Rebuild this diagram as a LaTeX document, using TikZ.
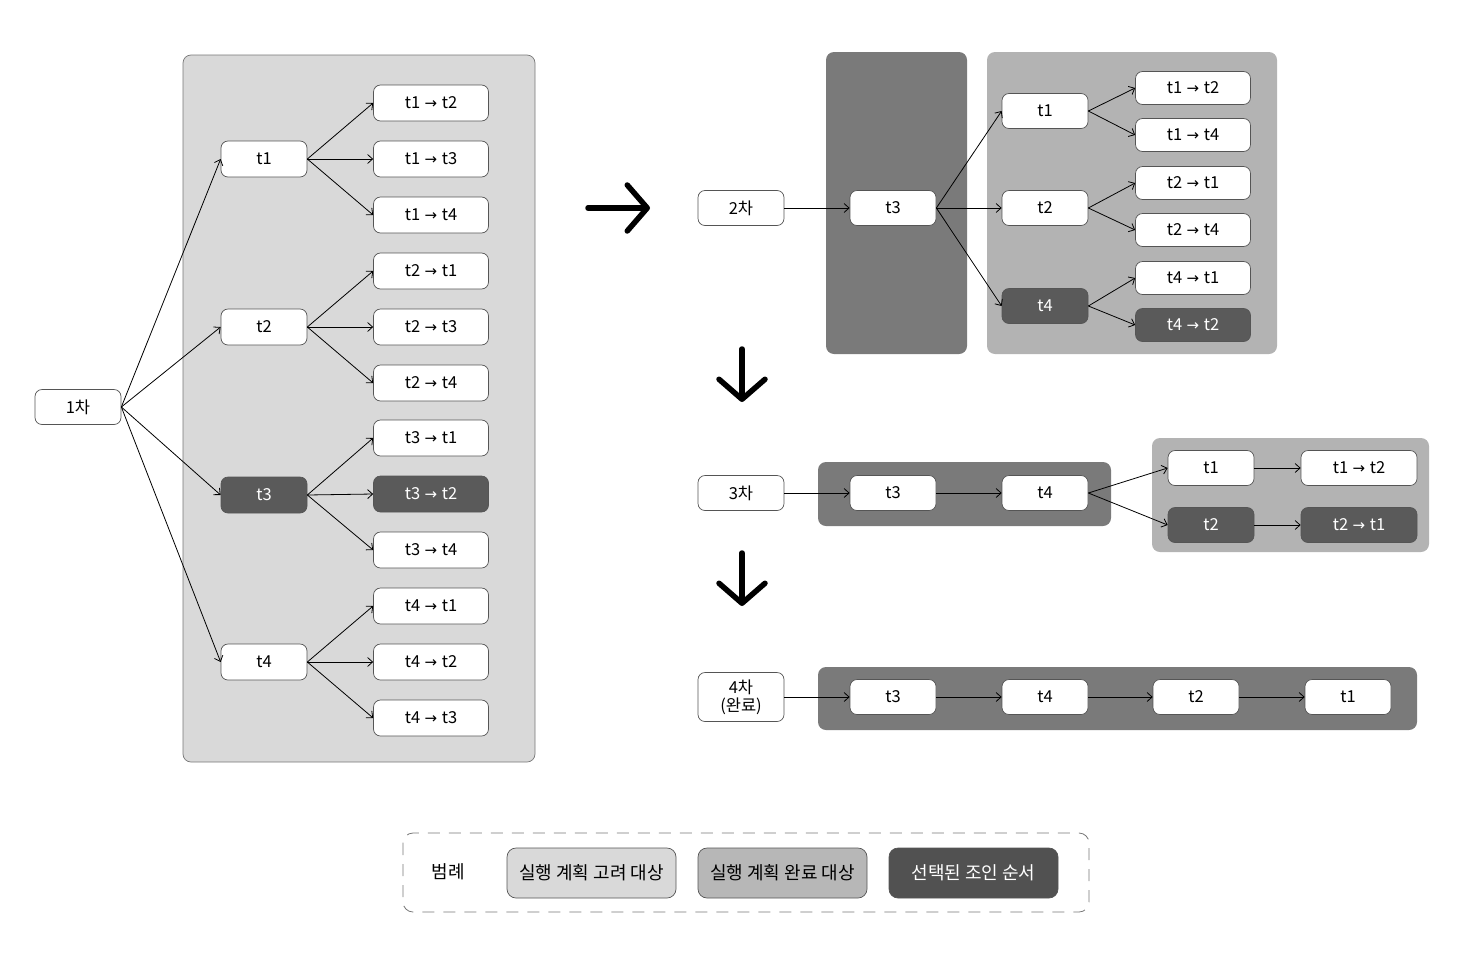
\documentclass[tikz,border=0pt]{standalone}
\usepackage{fontspec}
\setmainfont{Noto Sans CJK KR}
\newfontfamily\arrf{DejaVu Sans}
\usetikzlibrary{arrows.meta}
\definecolor{lightp}{HTML}{D9D9D9}
\definecolor{midp}{HTML}{B3B3B3}
\definecolor{darkp}{HTML}{7A7A7A}
\definecolor{selc}{HTML}{5A5A5A}
\definecolor{bord}{HTML}{555555}
\newcommand{\fs}{\fontsize{16.5}{19}\selectfont}
\newcommand{\fl}{\fontsize{18}{21}\selectfont}
\newcommand{\ra}{\hspace{4.5pt}{\arrf\fontsize{15}{15}\selectfont →}\hspace{4.5pt}}
\tikzset{
 nd/.style={draw=bord, line width=0.7pt, fill=white, rounded corners=7pt, minimum width=86pt, minimum height=35pt, inner sep=0pt, font=\fs, align=center},
 wd/.style={nd, minimum width=115pt},
 sel/.style={fill=selc, text=white},
 arr/.style={-{Straight Barb[length=5pt,width=9pt]}, line width=0.8pt},
 big/.style={line width=5.5pt, line cap=round, -{Straight Barb[length=20pt,width=46pt,line width=5.5pt, round]}},
 panel/.style={rounded corners=8pt},
 lgbox/.style={nd, font=\fl, minimum width=169pt, minimum height=50pt, rounded corners=9pt},
}
\begin{document}
\begin{tikzpicture}[x=1pt,y=-1pt]
\useasboundingbox (0,0) rectangle (1470,956);
% left panel
\draw[panel, fill=lightp, draw=bord!80, line width=0.7pt] (183,55) rectangle (535,762);
\node[nd] (r1) at (78,407) {1차};
\node[nd, minimum height=36pt] (a1) at (264,159) {t1};
\node[nd, minimum height=36pt] (a2) at (264,327) {t2};
\node[nd, minimum height=36pt, sel] (a3) at (264,495) {t3};
\node[nd, minimum height=36pt] (a4) at (264,662) {t4};
\node[wd, minimum height=36pt] (a12) at (431,103) {t1\ra t2};
\node[wd, minimum height=36pt] (a13) at (431,159) {t1\ra t3};
\node[wd, minimum height=36pt] (a14) at (431,215) {t1\ra t4};
\node[wd, minimum height=36pt] (a21) at (431,271) {t2\ra t1};
\node[wd, minimum height=36pt] (a23) at (431,327) {t2\ra t3};
\node[wd, minimum height=36pt] (a24) at (431,383) {t2\ra t4};
\node[wd, minimum height=36pt] (a31) at (431,438) {t3\ra t1};
\node[wd, minimum height=36pt, sel] (a32) at (431,494) {t3\ra t2};
\node[wd, minimum height=36pt] (a34) at (431,550) {t3\ra t4};
\node[wd, minimum height=36pt] (a41) at (431,606) {t4\ra t1};
\node[wd, minimum height=36pt] (a42) at (431,662) {t4\ra t2};
\node[wd, minimum height=36pt] (a43) at (431,718) {t4\ra t3};
\foreach \t in {a1,a2,a3,a4} \draw[arr] (r1.east) -- (\t.west);
\foreach \p/\c in {a1/a12,a1/a13,a1/a14,a2/a21,a2/a23,a2/a24,a3/a31,a3/a32,a3/a34,a4/a41,a4/a42,a4/a43}
  \draw[arr] (\p.east) -- (\c.west);
% big arrows
\coordinate (h1) at (588,208); \coordinate (h2) at (650,208);
\draw[big] (h1) -- (h2);
\coordinate (v1) at (742,349); \coordinate (v2) at (742,402);
\draw[big] (v1) -- (v2);
\coordinate (v3) at (742,553); \coordinate (v4) at (742,606);
\draw[big] (v3) -- (v4);
% 2nd
\fill[panel, darkp] (826,52) rectangle (967,354);
\fill[panel, midp] (987,52) rectangle (1277,354);
\node[nd] (r2) at (741,208) {2차};
\node[nd] (b3) at (893,208) {t3};
\node[nd] (b1) at (1045,111) {t1};
\node[nd] (b2) at (1045,208) {t2};
\node[nd, sel] (b4) at (1045,306) {t4};
\node[wd, minimum height=33pt] (b12) at (1193,88) {t1\ra t2};
\node[wd, minimum height=33pt] (b14) at (1193,135) {t1\ra t4};
\node[wd, minimum height=33pt] (b21) at (1193,183) {t2\ra t1};
\node[wd, minimum height=33pt] (b24) at (1193,230) {t2\ra t4};
\node[wd, minimum height=33pt] (b41) at (1193,278) {t4\ra t1};
\node[wd, minimum height=33pt, sel] (b42) at (1193,325) {t4\ra t2};
\draw[arr] (r2.east) -- (b3.west);
\foreach \t in {b1,b2,b4} \draw[arr] (b3.east) -- (\t.west);
\foreach \p/\c in {b1/b12,b1/b14,b2/b21,b2/b24,b4/b41,b4/b42}
  \draw[arr] (\p.east) -- (\c.west);
% 3rd
\fill[panel, darkp] (818,462) rectangle (1111,526);
\fill[panel, midp] (1152,438) rectangle (1429,552);
\node[nd] (r3) at (741,493) {3차};
\node[nd] (c3) at (893,493) {t3};
\node[nd] (c4) at (1045,493) {t4};
\node[nd] (c1) at (1211,468) {t1};
\node[nd, sel] (c2) at (1211,525) {t2};
\node[wd, minimum width=116pt] (c12) at (1359,468) {t1\ra t2};
\node[wd, minimum width=116pt, sel] (c21) at (1359,525) {t2\ra t1};
\draw[arr] (r3.east) -- (c3.west);
\draw[arr] (c3.east) -- (c4.west);
\draw[arr] (c4.east) -- (c1.west);
\draw[arr] (c4.east) -- (c2.west);
\draw[arr] (c1.east) -- (c12.west);
\draw[arr] (c2.east) -- (c21.west);
% 4th
\fill[panel, darkp] (818,667) rectangle (1417,730);
\node[nd, minimum height=49pt, font=\fontsize{16.5}{18}\selectfont] (r4) at (741,697) {4차\\(완료)};
\node[nd] (d3) at (893,697) {t3};
\node[nd] (d4) at (1045,697) {t4};
\node[nd] (d2) at (1196,697) {t2};
\node[nd] (d1) at (1348,697) {t1};
\draw[arr] (r4.east) -- (d3.west);
\draw[arr] (d3.east) -- (d4.west);
\draw[arr] (d4.east) -- (d2.west);
\draw[arr] (d2.east) -- (d1.west);
% legend
\draw[draw=bord!80, line width=0.8pt, dash pattern=on 12pt off 9pt, rounded corners=10pt] (403,833) rectangle (1089,912);
\node[font=\fl] (lg) at (448,872) {범례};
\node[lgbox, fill=lightp] (l1) at (591.5,873) {실행 계획 고려 대상};
\node[lgbox, fill=midp!90!lightp] (l2) at (782.5,873) {실행 계획 완료 대상};
\node[lgbox, fill=selc!90!black, text=white] (l3) at (973.5,873) {선택된 조인 순서};
\end{tikzpicture}
\end{document}
